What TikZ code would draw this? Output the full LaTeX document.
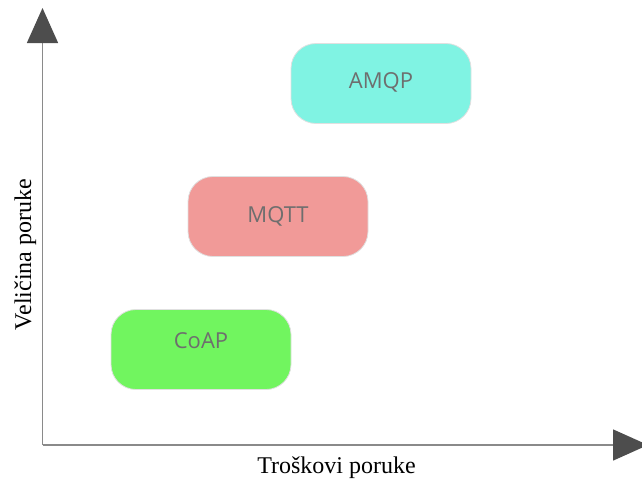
\documentclass[tikz,border=0pt]{standalone}
\usepackage{fontspec}
\setmainfont{Liberation Serif}
\newfontfamily\protofont{Open Sans}
\usetikzlibrary{arrows.meta}

\definecolor{axisgray}{HTML}{8A8A8A}
\definecolor{tipgray}{HTML}{4D4D4D}
\definecolor{amqpcyan}{HTML}{80F3E3}
\definecolor{mqttred}{HTML}{F19A98}
\definecolor{coapgreen}{HTML}{71F55F}
\definecolor{protogray}{HTML}{6E6E6E}

\tikzset{
  axis/.style={draw=axisgray, line width=1.5pt,
    -{Triangle[length=35pt,width=31pt,color=tipgray]}},
  proto/.style={draw=black!12, line width=0.8pt, rounded corners=25pt,
    minimum width=180pt, minimum height=80pt, inner sep=0pt,
    text=protogray, font=\protofont\fontsize{22}{22}\selectfont,
    text height=16pt},
  axislabel/.style={anchor=base, font=\fontsize{24}{24}\selectfont}
}

\begin{document}
\begin{tikzpicture}[x=1pt, y=-1pt]
          \useasboundingbox (0, 0) rectangle (642, 479);
          \coordinate (origin) at (42.5, 445);
          \coordinate (ytop) at (42.5, 8);
          \coordinate (xend) at (648, 445);
          \draw[axis] (origin) -- (ytop);
          \draw[axis] (origin) -- (xend);
          \node[proto, fill=amqpcyan, text depth=7pt] (amqp) at (381, 83.5) {AMQP};
          \node[proto, fill=mqttred, text depth=4pt] (mqtt) at (278, 216.5) {MQTT};
          \node[proto, fill=coapgreen, text depth=18pt] (coap) at (201, 349.5) {CoAP};
          \node[axislabel] (xlabel) at (336.5, 473) {Troškovi poruke};
          \node[axislabel, rotate=90] (ylabel) at (31, 254.5) {Veličina poruke};
    \end{tikzpicture}
\end{document}
